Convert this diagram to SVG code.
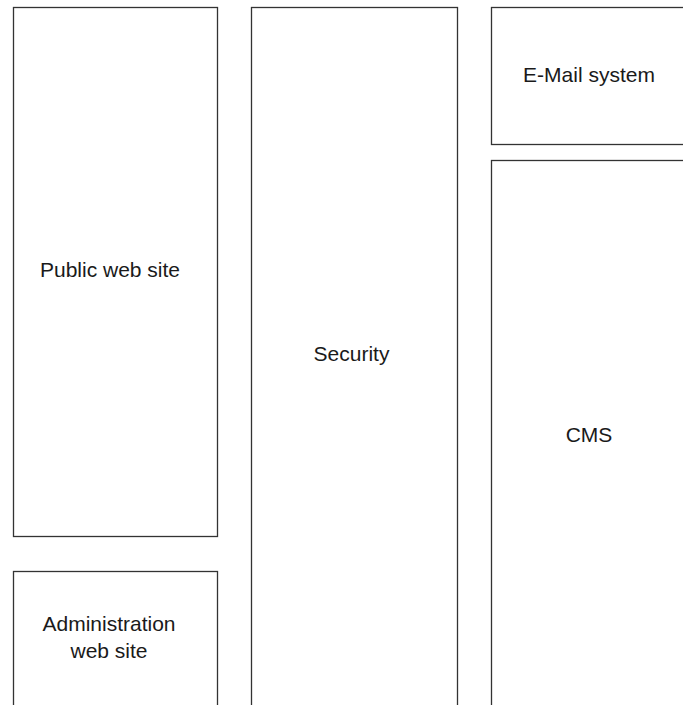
<svg xmlns="http://www.w3.org/2000/svg" width="683" height="705" viewBox="0 0 683 705">
  <style>
    .box { fill: #ffffff; stroke: #333333; stroke-width: 1.3; }
    .label { font-family: "Liberation Sans", Arial, sans-serif; font-size: 21px; fill: #1a1a1a; text-anchor: middle; }
  </style>
  <rect x="0" y="0" width="683" height="705" fill="#ffffff"/>
  <g id="public-web-site">
    <rect class="box" x="13.5" y="7.5" width="204" height="529"/>
    <text class="label" x="110" y="277">Public web site</text>
  </g>
  <g id="administration-web-site">
    <rect class="box" x="13.5" y="571.5" width="204" height="150"/>
    <text class="label" x="109" y="631">Administration</text>
    <text class="label" x="109" y="658">web site</text>
  </g>
  <g id="security">
    <rect class="box" x="251.5" y="7.5" width="206" height="714"/>
    <text class="label" x="351.5" y="361">Security</text>
  </g>
  <g id="email-system">
    <rect class="box" x="491.5" y="7.5" width="210" height="137"/>
    <text class="label" x="589" y="82">E-Mail system</text>
  </g>
  <g id="cms">
    <rect class="box" x="491.5" y="160.5" width="210" height="560"/>
    <text class="label" x="589" y="442">CMS</text>
  </g>
  <g id="connectors"/>
</svg>
